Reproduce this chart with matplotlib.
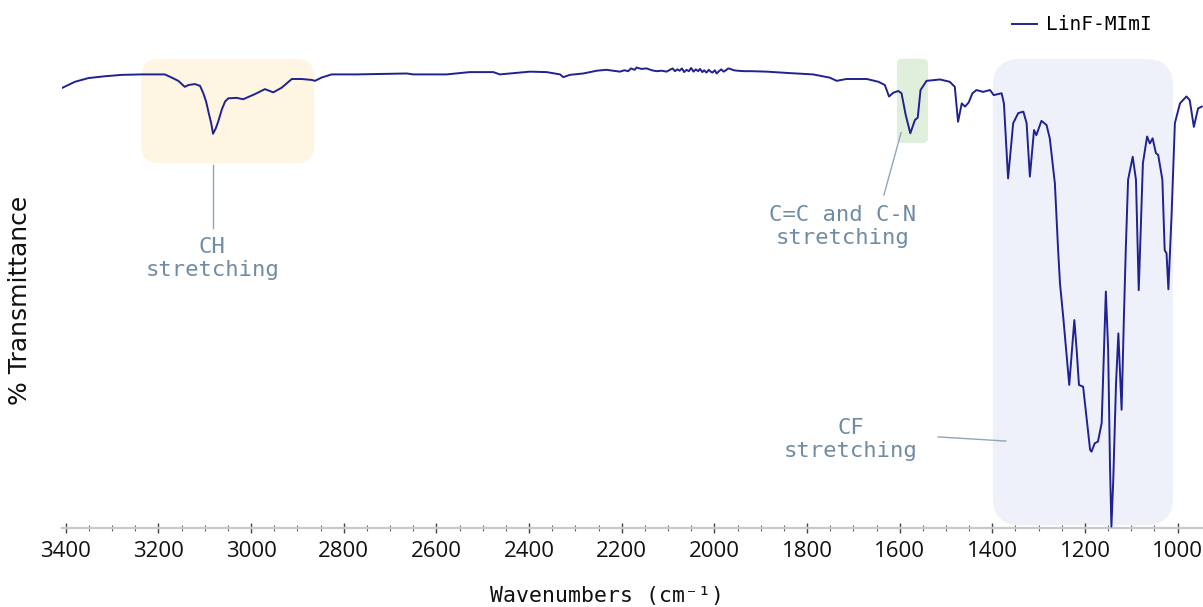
import matplotlib
matplotlib.use("Agg")
import matplotlib.pyplot as plt
from matplotlib.patches import FancyBboxPatch

# FTIR spectrum of LinF-MImI: wavenumber (cm-1) and % transmittance
wavenumber = [
    3407, 3380, 3351, 3315, 3279, 3236, 3186, 3171, 3157, 3143, 3135, 3121, 3110,
    3103, 3097, 3092, 3086, 3082, 3076, 3071, 3063, 3056, 3049, 3031, 3017, 2992,
    2970, 2952, 2934, 2912, 2891, 2869, 2862, 2848, 2826, 2772, 2664, 2650, 2578,
    2528, 2477, 2463, 2398, 2362, 2333, 2326, 2312, 2283, 2254, 2233, 2204, 2194,
    2186, 2180, 2172, 2168, 2158, 2146, 2135, 2125, 2113, 2103, 2096, 2090, 2085,
    2080, 2075, 2070, 2065, 2060, 2055, 2050, 2045, 2040, 2035, 2031, 2026, 2022,
    2017, 2012, 2008, 2004, 1999, 1995, 1990, 1985, 1980, 1975, 1970, 1966, 1958,
    1950, 1935, 1920, 1887, 1840, 1787, 1751, 1736, 1715, 1671, 1646, 1632, 1623,
    1614, 1603, 1596, 1587, 1577, 1567, 1561, 1555, 1542, 1513, 1492, 1481, 1474,
    1466, 1459, 1451, 1443, 1434, 1420, 1405, 1397, 1380, 1375, 1366, 1355, 1344,
    1333, 1326, 1319, 1310, 1305, 1294, 1283, 1276, 1265, 1258, 1254, 1247, 1234,
    1223, 1218, 1213, 1204, 1189, 1186, 1179, 1172, 1164, 1159, 1155, 1150, 1146,
    1143, 1139, 1133, 1128, 1125, 1121, 1116, 1112, 1107, 1097, 1090, 1084, 1075,
    1066, 1060, 1054, 1047, 1042, 1033, 1028, 1024, 1020, 1013, 1006, 995, 981,
    974, 965, 956, 948,
]
transmittance = [
    95.7, 97.0, 97.8, 98.2, 98.5, 98.6, 98.6, 97.9, 97.2, 95.9, 96.3, 96.5, 96.1,
    94.5, 92.7, 90.5, 88.0, 85.7, 86.9, 88.3, 91.0, 92.7, 93.4, 93.5, 93.2, 94.3,
    95.4, 94.7, 95.7, 97.6, 97.6, 97.4, 97.2, 97.9, 98.6, 98.6, 98.8, 98.6, 98.6,
    99.1, 99.1, 98.6, 99.2, 99.1, 98.6, 98.0, 98.5, 98.8, 99.4, 99.6, 99.2, 99.5,
    99.3, 99.9, 99.6, 100.1, 99.8, 99.9, 99.5, 99.3, 99.4, 99.2, 99.6, 99.9, 99.3,
    99.7, 99.4, 99.9, 99.1, 99.6, 99.3, 100.0, 99.2, 99.7, 99.3, 99.8, 99.1, 99.5,
    99.0, 99.6, 99.2, 99.0, 99.5, 98.8, 99.3, 99.7, 99.2, 99.5, 99.9, 99.8, 99.5,
    99.4, 99.3, 99.3, 99.2, 98.9, 98.6, 97.9, 97.2, 97.6, 97.6, 97.0, 96.3, 93.8,
    94.6, 95.0, 94.5, 89.8, 85.8, 88.7, 89.2, 95.2, 97.2, 97.5, 97.0, 95.9, 88.3,
    92.3, 91.6, 92.5, 94.5, 95.2, 94.8, 95.2, 94.1, 94.5, 92.3, 76.0, 88.0, 90.2,
    90.5, 88.0, 76.4, 86.5, 85.4, 88.5, 87.6, 84.7, 74.9, 60.4, 53.2, 45.9, 31.1,
    45.2, 38.7, 31.1, 30.7, 17.0, 16.6, 18.4, 18.8, 22.8, 38.7, 51.4, 38.7, 13.3,
    0.3, 10.4, 31.5, 42.3, 35.1, 25.7, 45.9, 60.4, 75.7, 80.7, 75.7, 51.7, 79.3,
    85.1, 83.6, 84.7, 81.5, 81.1, 75.7, 60.4, 59.7, 51.9, 68.4, 88.0, 92.3, 93.8,
    93.0, 87.2, 91.2, 91.6,
]

series_name = "LinF-MImI"
xticks = [3400, 3200, 3000, 2800, 2600, 2400, 2200, 2000, 1800, 1600, 1400, 1200, 1000]

# Highlighted band regions: (high wavenumber, low wavenumber, low %T, high %T)
band_ch = (3237, 2864, 79.3, 102.0)
band_cc = (1606, 1539, 83.7, 102.0)
band_cf = (1399, 1010, 0.6, 102.0)

W, H, DPI = 1203, 607, 100
fig = plt.figure(figsize=(W / DPI, H / DPI), dpi=DPI)

ax_left, ax_right, ax_top, ax_bottom = 62, 1203, 10, 528
ax = fig.add_axes([ax_left / W, 1 - ax_bottom / H,
                   (ax_right - ax_left) / W, (ax_bottom - ax_top) / H])
xlim = (3408, 945.3)
ylim = (0, 112.6)
ax.set_xlim(*xlim)
ax.set_ylim(*ylim)

# data units per pixel on each axis (for rounded band boxes)
ux = abs(xlim[0] - xlim[1]) / (ax_right - ax_left)
uy = (ylim[1] - ylim[0]) / (ax_bottom - ax_top)


def band(region, color, radius_px):
    hi, lo, tlo, thi = region
    box = FancyBboxPatch((lo, tlo), hi - lo, thi - tlo,
                         boxstyle=f"round,pad=0,rounding_size={radius_px * ux}",
                         mutation_aspect=uy / ux, facecolor=color,
                         edgecolor="none", zorder=0)
    ax.add_patch(box)


band(band_ch, "#fef5e2", 18)
band(band_cc, "#e0eedc", 5)
band(band_cf, "#eef1fa", 28)

ax.plot(wavenumber, transmittance, color="#1f2290", lw=1.4, zorder=3,
        label=series_name, solid_joinstyle="round")

note_color = "#6f8ca4"
line_color = "#8ea6b8"
mono = ["DejaVu Sans Mono", "DejaVu Sans"]

ax.text(3084, 58.6, "CH\nstretching", ha="center", va="center", fontsize=16,
        color=note_color, family=mono, linespacing=1.2)
ax.plot([3082, 3082], [78.9, 65.2], color=line_color, lw=1)

ax.text(1724, 65.5, "C=C and C-N\nstretching", ha="center", va="center",
        fontsize=16, color=note_color, family=mono, linespacing=1.2)
ax.plot([1597, 1634], [85.9, 72.4], color=line_color, lw=1)

ax.text(1705, 19.3, "CF\nstretching", ha="center", va="center", fontsize=16,
        color=note_color, family=mono, linespacing=1.2)
ax.plot([1517, 1371], [19.8, 18.9], color=line_color, lw=1)

# axes styling
for side in ("left", "right", "top"):
    ax.spines[side].set_visible(False)
ax.spines["bottom"].set_color("#c9c9c9")
ax.spines["bottom"].set_linewidth(1.6)
ax.set_yticks([])
ax.set_xticks(xticks)
ax.set_xticks(range(3350, 950, -50), minor=True)
ax.tick_params(axis="x", which="major", direction="inout", length=7, width=1,
               color="#444444", pad=6, labelsize=16)
ax.tick_params(axis="x", which="minor", direction="inout", length=4, width=0.8,
               color="#666666")
for lab in ax.get_xticklabels():
    lab.set_family(["Open Sans", "DejaVu Sans"])
    lab.set_color("#111111")

fig.text(607 / W, 1 - 596 / H, "Wavenumbers (cm⁻¹)", ha="center", va="center",
         fontsize=15.5, family=mono, color="#111111")
fig.text(20 / W, 1 - 300 / H, "% Transmittance", ha="center", va="center",
         rotation=90, fontsize=18, family=["DejaVu Sans"], color="#111111")

fig.legend(loc="center left", bbox_to_anchor=(1012 / W, 1 - 25 / H),
           frameon=False, borderaxespad=0, borderpad=0, handlelength=1.29,
           handletextpad=0.46, prop={"family": mono, "size": 14})

fig.savefig("out.png", dpi=DPI)
